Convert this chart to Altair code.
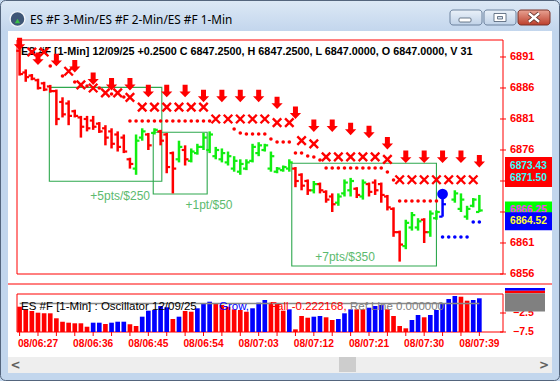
import altair as alt
import pandas as pd

# ---------------- main panel data (bar index 0 = 08/06:24, 1-minute bars) ----------------
bar_index = list(range(0, 70)) + [71, 72, 73, 74, 75]
bar_high = [6893.0, 6889.0, 6888.25, 6887.5, 6887.0, 6886.5, 6885.75, 6884.5, 6884.0, 6882.5,
            6881.5, 6881.5, 6881.5, 6880.5, 6880.0, 6879.5, 6879.0, 6878.5, 6874.75, 6878.5,
            6879.5, 6878.75, 6879.5, 6879.25, 6878.75, 6875.75, 6877.5, 6876.75, 6876.25, 6877.0,
            6878.75, 6879.0, 6876.5, 6876.25, 6875.75, 6875.0, 6874.5, 6874.5, 6877.0, 6877.25,
            6877.0, 6875.75, 6873.25, 6873.5, 6874.5, 6873.25, 6872.25, 6871.25, 6871.0, 6870.75,
            6869.5, 6869.0, 6869.0, 6871.25, 6871.5, 6870.0, 6871.25, 6870.75, 6871.25, 6870.75,
            6868.75, 6866.75, 6863.0, 6864.75, 6866.0, 6865.0, 6865.0, 6866.25, 6866.25, 6869.0,
            6869.5, 6869.0, 6867.0, 6868.25, 6868.75]
bar_low = [6888.0, 6887.0, 6887.25, 6885.75, 6885.5, 6885.25, 6880.0, 6881.25, 6880.0, 6881.25,
           6878.0, 6879.0, 6879.25, 6878.75, 6876.75, 6876.25, 6875.75, 6875.5, 6873.0, 6872.0,
           6877.5, 6876.0, 6878.5, 6876.75, 6872.25, 6869.0, 6874.0, 6873.5, 6874.0, 6875.25,
           6876.0, 6875.5, 6874.5, 6874.0, 6873.5, 6872.5, 6872.0, 6872.75, 6874.0, 6875.0,
           6875.75, 6872.5, 6872.25, 6872.5, 6872.5, 6870.0, 6869.5, 6868.75, 6869.0, 6869.0,
           6867.5, 6866.0, 6867.0, 6868.5, 6868.5, 6868.25, 6868.0, 6868.5, 6868.75, 6867.5,
           6866.25, 6862.0, 6858.0, 6860.0, 6863.0, 6863.0, 6861.0, 6862.0, 6864.75, 6865.25,
           6867.5, 6866.0, 6864.75, 6866.75, 6866.0]
bar_open = [6892.0, 6888.5, 6888.0, 6887.25, 6886.75, 6886.25, 6885.5, 6883.75, 6883.5, 6882.25,
            6881.25, 6881.0, 6880.75, 6880.25, 6879.5, 6879.0, 6878.5, 6878.0, 6874.5, 6873.0,
            6878.0, 6878.5, 6878.75, 6879.0, 6878.5, 6875.5, 6874.5, 6876.0, 6874.25, 6875.5,
            6876.5, 6876.0, 6875.0, 6874.5, 6874.0, 6873.0, 6872.5, 6873.0, 6874.25, 6875.5,
            6876.0, 6873.0, 6872.5, 6872.75, 6873.0, 6873.0, 6872.0, 6871.0, 6869.5, 6870.5,
            6869.25, 6868.5, 6867.5, 6869.0, 6869.5, 6869.75, 6868.5, 6870.5, 6870.75, 6870.5,
            6868.5, 6866.5, 6862.75, 6860.5, 6863.5, 6863.5, 6864.75, 6862.75, 6865.0, 6865.25,
            6868.0, 6866.5, 6865.25, 6867.0, 6866.0]
bar_close = [6888.25, 6887.75, 6887.5, 6886.0, 6885.75, 6885.5, 6881.0, 6881.75, 6881.5, 6881.5,
             6879.75, 6879.5, 6879.75, 6879.0, 6878.0, 6877.0, 6876.5, 6875.75, 6873.75, 6877.5,
             6879.0, 6876.75, 6879.25, 6877.5, 6873.25, 6873.0, 6876.5, 6874.5, 6875.75, 6876.5,
             6878.0, 6878.5, 6876.0, 6875.5, 6875.0, 6874.25, 6873.75, 6874.0, 6876.5, 6876.75,
             6876.75, 6875.0, 6873.0, 6873.25, 6874.0, 6871.0, 6870.25, 6869.5, 6870.5, 6869.5,
             6868.0, 6867.25, 6868.5, 6870.75, 6871.0, 6868.75, 6870.75, 6869.25, 6869.5, 6868.75,
             6866.75, 6862.75, 6860.75, 6864.25, 6865.5, 6864.5, 6862.75, 6865.75, 6866.0, 6867.25,
             6869.0, 6868.0, 6866.5, 6868.0, 6866.25]
current_bar = 69

# 3-minute signal arrows
arrow_index = [0, 3, 6, 9, 12, 15, 18, 21, 24, 27, 30, 33, 36, 39, 42, 45, 48, 51, 54, 57, 60, 63, 66, 69, 72, 75]
arrow_price = [6893.1, 6890.7, 6890.5, 6889.5, 6887.5, 6886.6, 6886.6, 6885.5, 6885.5, 6885.5,
               6884.7, 6884.7, 6884.7, 6884.7, 6883.6, 6882.0, 6879.9, 6879.9, 6879.4, 6878.9,
               6877.1, 6874.9, 6874.9, 6874.9, 6874.9, 6874.2]

# 2-minute stops (x marks)
cross_index = [2, 4, 8, 10, 12, 14, 16, 18, 20, 22, 24, 26, 28, 30, 32, 34, 36, 38,
               40, 42, 44, 46, 48, 50, 52, 54, 56, 58, 60, 62, 64, 66, 68, 70, 72, 74]
cross_price = [6891.8, 6891.8, 6888.7, 6886.5, 6886.0, 6885.2, 6885.2, 6884.5, 6882.9, 6882.9,
               6882.9, 6882.9, 6882.9, 6882.9, 6881.0, 6881.0, 6881.0, 6881.0, 6881.0, 6880.4,
               6880.4, 6877.5, 6877.0, 6874.9, 6874.9, 6874.9, 6874.9, 6874.9, 6874.5, 6871.2,
               6871.2, 6871.2, 6871.2, 6871.2, 6871.2, 6871.2]

# 1-minute stops (red dots)
dot_index = [5, 7, 9, 11, 13, 15, 17,
             18, 19, 20, 21, 22, 23, 24, 25, 26, 27, 28, 29, 30, 31,
             35, 36, 37, 38, 39, 40, 41, 42, 43, 44, 45, 46, 47, 48, 49,
             50, 51, 52, 53, 54, 55, 56, 57, 58, 59, 60, 61,
             62, 63, 64, 65, 66, 67, 68]
dot_price = [6889.55, 6887.94, 6886.97, 6886.32, 6886.0, 6885.03, 6884.55,
             6880.68, 6880.68, 6880.68, 6880.68, 6880.68, 6880.68, 6880.68, 6880.68, 6880.68, 6880.68, 6880.68, 6880.68, 6880.68, 6880.68,
             6879.39, 6878.74, 6878.58, 6878.58, 6878.58, 6878.58, 6877.77, 6877.29, 6877.29, 6877.29, 6875.52, 6875.52, 6875.03, 6874.87, 6874.39,
             6873.1, 6873.1, 6873.1, 6873.1, 6873.1, 6873.1, 6873.1, 6873.1, 6873.1, 6873.1, 6872.45, 6871.16,
             6867.77, 6867.77, 6867.77, 6867.77, 6867.77, 6867.77, 6867.77]

# long-side stops (blue dots) and current signal
blue_dot_index = [69, 70, 71, 72, 73, 74, 75]
blue_dot_price = [6861.97, 6861.97, 6861.97, 6861.97, 6861.97, 6864.39, 6864.39]
signal_index = [69]
signal_price = [6868.9]

# trade boxes
trade_start = [4.85, 21.8, 44.4]
trade_end = [23.2, 30.6, 68.0]
trade_top = [6886.1, 6878.85, 6873.85]
trade_bottom = [6870.95, 6868.9, 6857.3]
trade_label = ["+5pts/$250", "+1pt/$50", "+7pts/$350"]
trade_label_x = [16.4, 30.9, 53.1]
trade_label_price = [6868.6, 6867.1, 6858.7]

price_ticks = [6856, 6861, 6866, 6871, 6876, 6881, 6886, 6891]
price_labels_shown = [6856, 6861, 6876, 6881, 6886, 6891]   # 6866 and 6871 sit under the price markers
marker_price = [6873.43, 6871.50, 6866.25, 6864.52]
marker_text = ["6873.43", "6871.50", "6866.25", "6864.52"]
marker_bg = ["#ff0000", "#ff0000", "#00ff00", "#0000ff"]
marker_fg = ["#33ffff", "#33ffff", "#ff33ff", "#ffff33"]

# ---------------- oscillator panel ----------------
osc_value = [-0.84, -1.53, -1.97, -2.42, -2.58, -2.58, -3.89, -4.79, -5.05, -5.21,
             -5.21, -6.11, -5.05, -5.05, -5.39, -5.05, -4.79, -4.79, -5.47, -5.92,
             -3.47, -1.89, -1.71, -0.66, -1.0, -4.08, -3.47, -1.97, -2.16, -1.26,
             0.05, 0.47, -0.13, -0.39, -0.84, -1.53, -1.71, -2.16, -1.26, 0.21,
             0.92, 0.21, -0.13, -1.89, -1.53, -6.8, -3.29, -3.74, -3.47, -3.29,
             -3.63, -4.34, -4.08, -2.58, -1.53, -1.53, -1.53, -1.11, -0.66, -0.39,
             -1.53, -3.29, -5.92, -6.53, -4.34, -3.03, -3.63, -3.03, -1.71, 0.05,
             1.18, 1.97, 1.79, 0.74, 0.92, 1.37]
osc_dir = [
    "fall", "fall", "fall", "fall", "fall", "fall", "fall", "fall", "fall", "fall",
    "fall", "fall", "grow", "grow", "fall", "grow", "grow", "grow", "fall", "fall",
    "grow", "grow", "grow", "grow", "grow", "fall", "grow", "fall", "fall", "grow",
    "grow", "grow", "fall", "fall", "fall", "fall", "fall", "fall", "grow", "grow",
    "grow", "fall", "fall", "fall", "grow", "fall", "fall", "fall", "grow", "grow",
    "fall", "fall", "grow", "grow", "grow", "fall", "fall", "grow", "grow", "grow",
    "fall", "fall", "fall", "fall", "grow", "grow", "fall", "grow", "grow", "grow",
    "grow", "grow", "fall", "fall", "grow", "grow"]
osc_ticks = [-2.5, -7.5]

time_index = [3, 12, 21, 30, 39, 48, 57, 66, 75]
time_labels = ["08/06:27", "08/06:36", "08/06:45", "08/06:54", "08/07:03",
               "08/07:12", "08/07:21", "08/07:30", "08/07:39"]

HEADER = "ES #F [1-Min] 12/09/25  +0.2500 C 6847.2500, H 6847.2500, L 6847.0000, O 6847.0000, V 31"
WINDOW_TITLE = "ES #F 3-Min/ES #F 2-Min/ES #F 1-Min"

# ---------------- build ----------------
RED, GREEN, BLUE = "#ff0000", "#11ee11", "#0000ff"
FONT = "Liberation Sans"
ONE = pd.DataFrame({"k": [0]})
XS = alt.Scale(domain=[0, 75], range=[19.6, 479.35], nice=False, zero=False)
PS = alt.Scale(domain=[6856, 6893.74], range=[274, 40], nice=False, zero=False)
OS = alt.Scale(domain=[-7.5, 2.5], range=[332, 294], nice=False, zero=False)


def X(f):
    return alt.X(f, type="quantitative", scale=XS, axis=None)


def PY(f):
    return alt.Y(f, type="quantitative", scale=PS, axis=None)


def OY(f):
    return alt.Y(f, type="quantitative", scale=OS, axis=None)


layers = []


def prect(x1, y1, x2, y2, **kw):
    layers.append(alt.Chart(ONE).mark_rect(**kw).encode(
        x=alt.value(x1), x2=alt.value(x2), y=alt.value(y1), y2=alt.value(y2)))


def ptext(x, y, text, **kw):
    layers.append(alt.Chart(ONE).mark_text(text=text, **kw).encode(x=alt.value(x), y=alt.value(y)))


def pline(x1, y1, x2, y2, **kw):
    layers.append(alt.Chart(ONE).mark_rule(**kw).encode(
        x=alt.value(x1), x2=alt.value(x2), y=alt.value(y1), y2=alt.value(y2)))


def grad(top, bottom):
    return alt.LinearGradient(gradient="linear", x1=0, x2=0, y1=0, y2=1,
                              stops=[alt.GradientStop(color=top, offset=0),
                                     alt.GradientStop(color=bottom, offset=1)])


# window chrome
prect(0, 0, 560, 381, fill="#c2d6ed")
prect(1, 1, 559, 31, fill=grad("#dce8f5", "#c3d6ed"))
prect(8, 31, 552, 373, fill="#ffffff")
layers.append(alt.Chart(ONE).mark_point(shape="circle", filled=True, size=220, fill="#3f5676",
                                        stroke="#f4f7fb", strokeWidth=1.3, opacity=1)
              .encode(x=alt.value(17.5), y=alt.value(19)))
layers.append(alt.Chart(ONE).mark_point(shape="triangle-up", filled=True, size=28, color="#3cc24a", opacity=1)
              .encode(x=alt.value(17.5), y=alt.value(21)))
ptext(30, 19.5, WINDOW_TITLE, font="Noto Sans", fontSize=11.8, align="left", baseline="middle", color="#000000")
prect(450, 10, 482, 25, fill=grad("#eaf1f9", "#c0d2e8"), stroke="#6d829e", strokeWidth=1, cornerRadius=3)
prect(484, 10, 516, 25, fill=grad("#eaf1f9", "#c0d2e8"), stroke="#6d829e", strokeWidth=1, cornerRadius=3)
prect(518, 10, 550, 25, fill=grad("#e8a393", "#bd3f2c"), stroke="#7b3228", strokeWidth=1, cornerRadius=3)
prect(459, 18, 471, 22, fill="#ffffff", stroke="#4a5a70", strokeWidth=0.8, cornerRadius=1)
prect(494, 13.5, 506, 21.5, fill="#ffffff", stroke="#4a5a70", strokeWidth=0.8)
prect(497.5, 16.5, 502.5, 19, fill="#d8e2ee", stroke="#4a5a70", strokeWidth=0.8)
CLOSE_X = "M-1.2,-1L1.2,1M1.2,-1L-1.2,1"
layers.append(alt.Chart(ONE).mark_point(shape=CLOSE_X, filled=False, size=72, stroke="#5a2a22",
                                        strokeWidth=4.2, opacity=1).encode(x=alt.value(534), y=alt.value(17.5)))
layers.append(alt.Chart(ONE).mark_point(shape=CLOSE_X, filled=False, size=72, stroke="#ffffff",
                                        strokeWidth=2.4, opacity=1).encode(x=alt.value(534), y=alt.value(17.5)))

# main panel frame and axis
prect(17, 40, 503, 274, fill="#ffffff", fillOpacity=0, stroke=RED, strokeWidth=1)
tick_df = pd.DataFrame({"p": price_ticks})
layers.append(alt.Chart(tick_df).mark_rule(color=RED, strokeWidth=1).encode(
    x=alt.value(500), x2=alt.value(506), y=PY("p")))
lab_df = pd.DataFrame({"p": price_labels_shown})
layers.append(alt.Chart(lab_df).mark_text(color=RED, font=FONT, fontSize=11, fontWeight="bold",
                                          align="left", baseline="middle").encode(
    x=alt.value(510), y=PY("p"), text=alt.Text("p:Q", format="d")))

# price markers on the right axis
mk = pd.DataFrame({"p": marker_price, "t": marker_text, "bg": marker_bg, "fg": marker_fg})
mk["top"] = mk["p"] + 1.45
mk["bot"] = mk["p"] - 1.45
for r in range(len(mk)):
    one = mk.iloc[[r]]
    layers.append(alt.Chart(one).mark_rect().encode(
        x=alt.value(505), x2=alt.value(552), y=PY("top"), y2=alt.Y2("bot"),
        color=alt.Color("bg:N", scale=None)))
    layers.append(alt.Chart(one).mark_text(font=FONT, fontSize=10.2, fontWeight="bold", align="left",
                                           baseline="middle").encode(
        x=alt.value(510), y=PY("p"), text="t:N", color=alt.Color("fg:N", scale=None)))

# trade boxes and labels
tb = pd.DataFrame({"s": trade_start, "e": trade_end, "t": trade_top, "b": trade_bottom,
                   "lab": trade_label, "lx": trade_label_x, "ly": trade_label_price})
layers.append(alt.Chart(tb).mark_rect(fill="#ffffff", fillOpacity=0, stroke="#2ea84e", strokeWidth=1.1).encode(
    x=X("s"), x2=alt.X2("e"), y=PY("t"), y2=alt.Y2("b")))
layers.append(alt.Chart(tb).mark_text(font=FONT, fontSize=12, color="#5cba6e", align="center",
                                      baseline="middle").encode(x=X("lx"), y=PY("ly"), text="lab:N"))

# header line
ptext(21, 55, HEADER, font=FONT, fontSize=10.8, fontWeight="bold", align="left",
      baseline="alphabetic", color="#000000")

# red stop dots
dd = pd.DataFrame({"i": dot_index, "p": dot_price})
layers.append(alt.Chart(dd).mark_circle(size=13, color=RED, opacity=1).encode(x=X("i"), y=PY("p")))
# x marks
cd = pd.DataFrame({"i": cross_index, "p": cross_price})
layers.append(alt.Chart(cd).mark_point(shape="M-1,-1L1,1M1,-1L-1,1", filled=False, size=72, stroke=RED,
                                       strokeWidth=2.4, opacity=1).encode(x=X("i"), y=PY("p")))
# arrows
ARROW = "M-0.4,-1L0.4,-1L0.4,0.05L0.9,0.05L0,1L-0.9,0.05L-0.4,0.05Z"
ad = pd.DataFrame({"i": arrow_index, "p": arrow_price})
layers.append(alt.Chart(ad).mark_point(shape=ARROW, filled=True, size=156, color=RED, opacity=1,
                                       strokeWidth=0).encode(x=X("i"), y=PY("p")))

# OHLC bars
bars = pd.DataFrame({"i": bar_index, "h": bar_high, "l": bar_low, "o": bar_open, "c": bar_close})
bars["col"] = [BLUE if i == current_bar else (GREEN if c > o else RED)
               for i, o, c in zip(bars["i"], bars["o"], bars["c"])]
bars["il"] = bars["i"] - 0.55
bars["ir"] = bars["i"] + 0.55
col = alt.Color("col:N", scale=None)
layers.append(alt.Chart(bars).mark_rule(strokeWidth=2.5).encode(x=X("i"), y=PY("h"), y2=alt.Y2("l"), color=col))
layers.append(alt.Chart(bars).mark_rule(strokeWidth=2.2).encode(x=X("il"), x2=alt.X2("i"), y=PY("o"), color=col))
layers.append(alt.Chart(bars).mark_rule(strokeWidth=2.2).encode(x=X("i"), x2=alt.X2("ir"), y=PY("c"), color=col))

# blue stops and signal
bd = pd.DataFrame({"i": blue_dot_index, "p": blue_dot_price})
layers.append(alt.Chart(bd).mark_circle(size=13, color=BLUE, opacity=1).encode(x=X("i"), y=PY("p")))
sd = pd.DataFrame({"i": signal_index, "p": signal_price})
layers.append(alt.Chart(sd).mark_circle(size=115, color=BLUE, opacity=1).encode(x=X("i"), y=PY("p")))

# separator
pline(8, 284, 552, 284, color=RED, strokeWidth=1)

# oscillator panel
osc = pd.DataFrame({"i": list(range(76)), "v": osc_value, "d": osc_dir})
osc["col"] = [BLUE if d == "grow" else RED for d in osc["d"]]
osc["il"] = osc["i"] - 0.38
osc["ir"] = osc["i"] + 0.38
osc["base"] = -7.5
prect(17, 294, 503, 332, fill="#ffffff", fillOpacity=0, stroke=RED, strokeWidth=1)
layers.append(alt.Chart(osc).mark_rect().encode(x=X("il"), x2=alt.X2("ir"), y=OY("v"), y2=alt.Y2("base"),
                                                color=alt.Color("col:N", scale=None)))
ref = pd.DataFrame({"a": [0], "b": [75], "v": [0.0]})
layers.append(alt.Chart(ref).mark_rule(color="#888888", strokeWidth=1.3).encode(x=X("a"), x2=alt.X2("b"), y=OY("v")))
ptext(21, 310, "ES #F [1-Min] : Oscillator 12/09/25", font=FONT, fontSize=11.5, align="left",
      baseline="alphabetic", color="#000000")
ptext(219, 310, "Grow,", font=FONT, fontSize=11.5, align="left", baseline="alphabetic", color=BLUE)
ptext(270, 310, "Fall -0.222168,", font=FONT, fontSize=11.5, align="left", baseline="alphabetic", color=RED)
ptext(350, 310, "Ref Line 0.000000", font=FONT, fontSize=11.5, align="left", baseline="alphabetic",
      color="#808080")
ot = pd.DataFrame({"v": osc_ticks})
layers.append(alt.Chart(ot).mark_rule(color=RED, strokeWidth=1).encode(x=alt.value(500), x2=alt.value(506), y=OY("v")))
layers.append(alt.Chart(ot).mark_text(color=RED, font=FONT, fontSize=10.5, fontWeight="bold", align="left",
                                      baseline="middle").encode(x=alt.value(513), y=OY("v"),
                                                                text=alt.Text("v:Q", format=".1f")))
prect(505, 288, 545, 290.7, fill=BLUE)
prect(505, 290.7, 545, 293.3, fill=RED)
prect(505, 293.3, 545, 311.5, fill="#808080")

# time axis
td = pd.DataFrame({"i": time_index, "t": time_labels})
tk = pd.DataFrame({"i": list(range(0, 76, 3))})
layers.append(alt.Chart(tk).mark_rule(color=RED, strokeWidth=1).encode(x=X("i"), y=alt.value(332), y2=alt.value(336)))
layers.append(alt.Chart(td).mark_text(color=RED, font=FONT, fontSize=10.2, fontWeight="bold", align="center",
                                      baseline="alphabetic").encode(x=X("i"), y=alt.value(347), text="t:N"))

# scrollbar
prect(8, 357, 552, 373, fill="#eeeeee")
prect(339, 357, 356, 372, fill="#cdcdcd")
ptext(15.5, 365, "<", font="DejaVu Sans", fontSize=12, fontWeight="bold", align="center", baseline="middle",
      color="#606060")
ptext(544, 365, ">", font="DejaVu Sans", fontSize=12, fontWeight="bold", align="center", baseline="middle",
      color="#606060")

# window borders on top
prect(552, 31, 560, 381, fill="#c2d6ed")
prect(0, 373, 560, 381, fill="#c2d6ed")
prect(0.5, 0.5, 559.5, 380.5, fill="#ffffff", fillOpacity=0, stroke="#54657d", strokeWidth=1, cornerRadius=5)

chart = alt.layer(*layers).resolve_scale(x="independent", y="independent", color="independent").properties(
    width=560, height=381, padding=0, autosize=alt.AutoSizeParams(type="none")
).configure_view(strokeWidth=0).configure(background="#ffffff")

chart.save("out.html", embed_options={"renderer": "svg", "actions": False})
